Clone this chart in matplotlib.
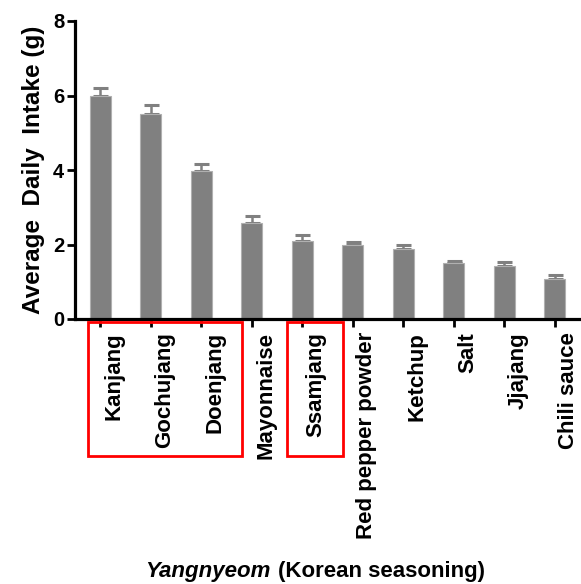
import matplotlib
matplotlib.use("Agg")
import matplotlib.pyplot as plt
import numpy as np
from matplotlib.patches import Rectangle
from matplotlib.transforms import blended_transform_factory
from matplotlib.offsetbox import TextArea, HPacker, AnchoredOffsetbox

plt.rcParams['font.family'] = ['Liberation Sans', 'DejaVu Sans']

categories = ["Kanjang", "Gochujang", "Doenjang", "Mayonnaise", "Ssamjang",
              "Red pepper powder", "Ketchup", "Salt", "Jjajang", "Chili sauce"]
means = [6.00, 5.51, 3.96, 2.57, 2.09, 2.00, 1.89, 1.50, 1.41, 1.07]
errors = [0.21, 0.23, 0.19, 0.20, 0.16, 0.07, 0.11, 0.07, 0.11, 0.12]
yticks = [0, 2, 4, 6, 8]

fig = plt.figure(figsize=(5.81, 5.84), dpi=100)
ax = fig.add_axes([75/581, 1-319/584, 505/581, 298/584])

x = np.arange(len(categories))
ax.bar(x, means, width=0.42, color='#808080', edgecolor='#b0b0b0', linewidth=0.8, zorder=2)
ax.errorbar(x, means, yerr=[np.zeros(len(x)), errors], fmt='none', ecolor='#808080',
            elinewidth=1.8, capsize=5.4, capthick=2.2, zorder=1)

ax.set_xlim(-0.5, len(x) - 0.5)
ax.set_ylim(0, 8)
ax.set_yticks(yticks)
ax.set_yticklabels([str(v) for v in yticks], fontsize=14.5, fontweight='bold')
ax.set_xticks(x)
ax.set_xticklabels([])
for xi, cat in zip(x, categories):
    ax.annotate(cat, xy=(xi, 0), xycoords=('data', 'axes fraction'),
                xytext=(10, -9.5), textcoords='offset points', rotation=90,
                ha='center', va='top', fontsize=16, fontweight='bold',
                annotation_clip=False)

for s in ['top', 'right']:
    ax.spines[s].set_visible(False)
for s in ['left', 'bottom']:
    ax.spines[s].set_linewidth(2.3)
ax.tick_params(axis='both', width=2.0, length=5.8, pad=2)
ax.tick_params(axis='x', length=5.5)

ax.set_ylabel("Average  Daily  Intake (g)", fontsize=17.5, fontweight='bold', labelpad=6)

# x label with italic part
ta1 = TextArea("Yangnyeom", textprops=dict(fontsize=16, fontweight='bold', style='italic'))
ta2 = TextArea("(Korean seasoning)", textprops=dict(fontsize=16, fontweight='bold'))
pack = HPacker(children=[ta1, ta2], align='baseline', pad=0, sep=5)
ab = AnchoredOffsetbox(loc='center', child=pack, frameon=False, pad=0, borderpad=0,
                       bbox_to_anchor=(315/581, 1-572/584), bbox_transform=fig.transFigure)
fig.add_artist(ab)

# red highlight boxes
tr = blended_transform_factory(ax.transData, fig.transFigure)
y0 = 1-456/584
h = (456-322)/584
for (xa, xb) in [(-0.24, 2.81), (3.70, 4.81)]:
    fig.add_artist(Rectangle((xa, y0), xb - xa, h, transform=tr, fill=False,
                             edgecolor='#ff0000', linewidth=2.0, clip_on=False))

fig.savefig("out.png", dpi=100)
